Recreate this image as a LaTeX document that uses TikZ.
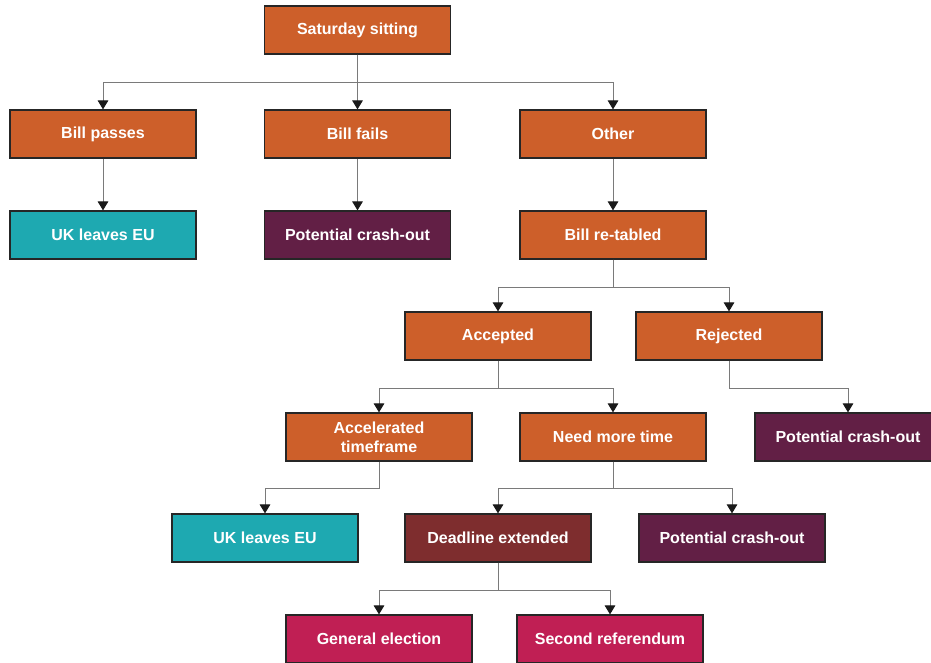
\documentclass[tikz,border=0pt]{standalone}
\usepackage{fontspec}
\setmainfont{Liberation Sans}
\usetikzlibrary{arrows.meta}
\definecolor{cOrange}{HTML}{CD5F2A}
\definecolor{cTeal}{HTML}{1EA9B1}
\definecolor{cPurple}{HTML}{621F45}
\definecolor{cDark}{HTML}{7E2D2E}
\definecolor{cPink}{HTML}{C01F54}
\definecolor{cLine}{HTML}{7A7A7A}
\definecolor{cTip}{HTML}{1A1A1A}
\tikzset{
  box/.style={draw=black!85, line width=0.9pt, minimum width=139.5pt, minimum height=36pt,
    inner sep=0pt, text=white, align=center, font=\bfseries\fontsize{12}{14.25}\selectfont},
  orangebox/.style={box, fill=cOrange},
  tealbox/.style={box, fill=cTeal},
  purplebox/.style={box, fill=cPurple},
  darkbox/.style={box, fill=cDark},
  pinkbox/.style={box, fill=cPink},
  conn/.style={draw=cLine, line width=0.75pt, -{Triangle[width=8pt,length=6.8pt,color=cTip,fill=cTip]}},
}
\begin{document}
\begin{tikzpicture}[x=0.75pt,y=-0.75pt]
\useasboundingbox (0,0) rectangle (931,663);
\node[orangebox] (sat) at (357.5,30) {Saturday sitting};
\node[orangebox] (bp) at (103,134) {Bill passes};
\node[orangebox] (bf) at (357.5,134) {Bill fails};
\node[orangebox] (oth) at (613,134) {Other};
\node[tealbox] (uk1) at (103,235) {UK leaves EU};
\node[purplebox] (pco1) at (357.5,235) {Potential crash-out};
\node[orangebox] (ret) at (613,235) {Bill re-tabled};
\node[orangebox] (acc) at (498,336) {Accepted};
\node[orangebox] (rej) at (729,336) {Rejected};
\node[orangebox] (accel) at (379,437) {Accelerated\\timeframe};
\node[orangebox] (nmt) at (613,437) {Need more time};
\node[purplebox] (pco2) at (848,437) {Potential crash-out};
\node[tealbox] (uk2) at (265,538) {UK leaves EU};
\node[darkbox] (dl) at (498,538) {Deadline extended};
\node[purplebox] (pco3) at (732,538) {Potential crash-out};
\node[pinkbox] (ge) at (379,639) {General election};
\node[pinkbox] (sr) at (610,639) {Second referendum};

\draw[conn] (sat.south) -- ++(0,28) -| (bp.north);
\draw[conn] (sat.south) -- (bf.north);
\draw[conn] (sat.south) -- ++(0,28) -| (oth.north);
\draw[conn] (bp.south) -- (uk1.north);
\draw[conn] (bf.south) -- (pco1.north);
\draw[conn] (oth.south) -- (ret.north);
\draw[conn] (ret.south) -- ++(0,28) -| (acc.north);
\draw[conn] (ret.south) -- ++(0,28) -| (rej.north);
\draw[conn] (acc.south) -- ++(0,28) -| (accel.north);
\draw[conn] (acc.south) -- ++(0,28) -| (nmt.north);
\draw[conn] (rej.south) -- ++(0,28) -| (pco2.north);
\draw[conn] (accel.south) -- ++(0,27) -| (uk2.north);
\draw[conn] (nmt.south) -- ++(0,27) -| (dl.north);
\draw[conn] (nmt.south) -- ++(0,27) -| (pco3.north);
\draw[conn] (dl.south) -- ++(0,28) -| (ge.north);
\draw[conn] (dl.south) -- ++(0,28) -| (sr.north);
\end{tikzpicture}
\end{document}
